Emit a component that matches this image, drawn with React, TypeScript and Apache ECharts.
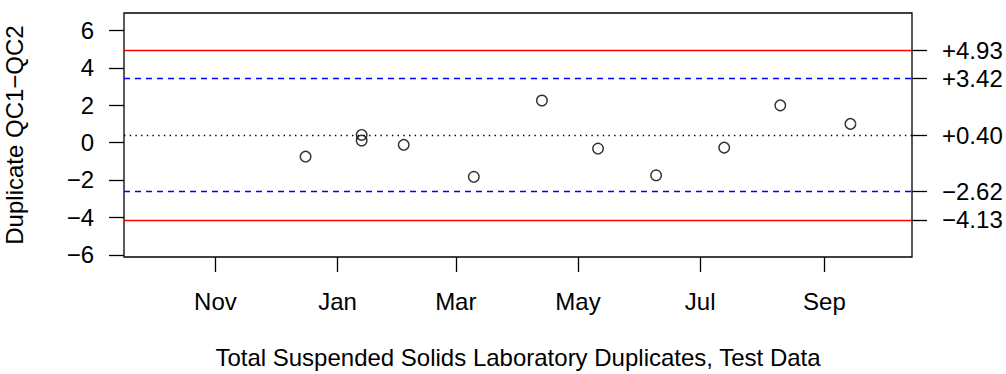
import React, { useEffect, useRef } from "react";
import * as echarts from "echarts";

const sampleDates = [
  "2012-12-16", "2013-01-13", "2013-01-13", "2013-02-03", "2013-03-10", "2013-04-13",
  "2013-05-11", "2013-06-09", "2013-07-13", "2013-08-10", "2013-09-14",
];
const sampleValues = [-0.75, 0.41, 0.11, -0.12, -1.83, 2.25, -0.32, -1.75, -0.27, 1.99, 1.0];

const monthTickDates = ["2012-11-01", "2013-01-01", "2013-03-01", "2013-05-01", "2013-07-01", "2013-09-01"];
const monthNames = ["Jan", "Feb", "Mar", "Apr", "May", "Jun", "Jul", "Aug", "Sep", "Oct", "Nov", "Dec"];
const leftTicks = [-6, -4, -2, 0, 2, 4, 6];

const meanLine = 0.4;
const warningLines = [-2.62, 3.42];
const controlLines = [-4.13, 4.93];
const rightTicks = [-4.13, -2.62, 0.4, 3.42, 4.93];

const xRangeStart = "2012-09-16T08:30:00Z";
const xRangeEnd = "2013-10-14T18:00:00Z";
const yMin = -6.12;
const yMax = 6.93;

const xTitle = "Total Suspended Solids Laboratory Duplicates, Test Data";
const yTitle = "Duplicate QC1\u2212QC2";

const toTs = (s: string) => Date.parse(s.length === 10 ? s + "T00:00:00Z" : s);
const minus = (s: string) => s.replace("-", "\u2212");

const FONT = "'Liberation Sans', Arial, Helvetica, sans-serif";
const FS = 24;

export default function App() {
  const ref = useRef<HTMLDivElement>(null);
  useEffect(() => {
    if (!ref.current) return;
    const chart = echarts.init(ref.current, null, { renderer: "svg" });
    const pts = sampleDates.map((d, i) => [toTs(d), sampleValues[i]]);
    const lineStyleBase = { width: 1.3 };
    chart.setOption({
      animation: false,
      backgroundColor: "#fff",
      textStyle: { fontFamily: FONT, color: "#000" },
      grid: {
        left: 124,
        top: 13,
        width: 788,
        height: 244,
        show: true,
        borderColor: "#000",
        borderWidth: 1.3,
        backgroundColor: "transparent",
        containLabel: false,
        outerBoundsMode: "none",
      },
      xAxis: {
        type: "value",
        min: toTs(xRangeStart),
        max: toTs(xRangeEnd),
        splitLine: { show: false },
        axisLine: { show: false, onZero: false },
        axisTick: {
          show: true,
          inside: false,
          length: 15,
          lineStyle: { color: "#000", width: 1.3 },
          customValues: monthTickDates.map(toTs),
        },
        axisLabel: {
          customValues: monthTickDates.map(toTs),
          formatter: (v: number) => monthNames[new Date(v).getUTCMonth()],
          fontSize: FS,
          fontFamily: FONT,
          color: "#000",
          margin: 32,
        },
        name: xTitle,
        nameLocation: "middle",
        nameGap: 88,
        nameTextStyle: { fontSize: FS, fontFamily: FONT, color: "#000" },
      },
      yAxis: [
        {
          type: "value",
          position: "left",
          min: yMin,
          max: yMax,
          splitLine: { show: false },
          axisLine: { show: false, onZero: false },
          axisTick: {
            show: true,
            length: 15,
            lineStyle: { color: "#000", width: 1.3 },
            customValues: leftTicks,
          },
          axisLabel: {
            customValues: leftTicks,
            formatter: (v: number) => minus(String(v)),
            fontSize: FS,
            fontFamily: FONT,
            color: "#000",
            margin: 30,
          },
          name: yTitle,
          nameLocation: "middle",
          nameRotate: 90,
          nameGap: 98,
          nameTextStyle: { fontSize: FS, fontFamily: FONT, color: "#000" },
        },
        {
          type: "value",
          position: "right",
          min: yMin,
          max: yMax,
          splitLine: { show: false },
          axisLine: { show: false, onZero: false },
          axisTick: {
            show: true,
            length: 15,
            lineStyle: { color: "#000", width: 1.3 },
            customValues: rightTicks,
          },
          axisLabel: {
            customValues: rightTicks,
            formatter: (v: number) => (v >= 0 ? "+" + v.toFixed(2) : "\u2212" + Math.abs(v).toFixed(2)),
            fontSize: FS,
            fontFamily: FONT,
            color: "#000",
            margin: 30,
          },
        },
      ],
      series: [
        {
          type: "scatter",
          data: pts,
          symbol: "circle",
          symbolSize: 10.5,
          itemStyle: { color: "rgba(0,0,0,0)", borderColor: "#000", borderWidth: 1.4 },
          emphasis: { disabled: true },
          silent: true,
          z: 5,
          markLine: {
            silent: true,
            symbol: ["none", "none"],
            label: { show: false },
            emphasis: { disabled: true },
            data: [
              ...controlLines.map((v) => ({ yAxis: v, lineStyle: { ...lineStyleBase, color: "#FF0000", type: "solid" } })),
              ...warningLines.map((v) => ({ yAxis: v, lineStyle: { ...lineStyleBase, color: "#0000FF", type: [6, 5] } })),
              { yAxis: meanLine, lineStyle: { ...lineStyleBase, color: "#000", type: [1.4, 4.3] } },
            ],
          },
        },
      ],
    });
    return () => chart.dispose();
  }, []);
  return <div ref={ref} style={{ position: "fixed", left: 0, top: 0, width: 1006, height: 374 }} />;
}
